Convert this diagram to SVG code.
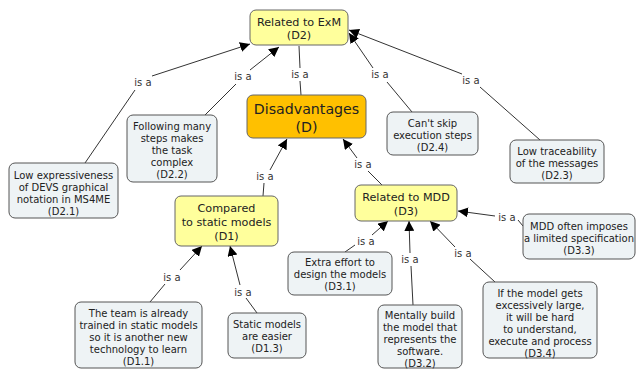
<svg xmlns="http://www.w3.org/2000/svg" width="638" height="370" viewBox="0 0 638 370">
  <defs>
    <marker id="arrow" viewBox="0 0 10 10" refX="10" refY="5" markerWidth="10" markerHeight="10" markerUnits="userSpaceOnUse" orient="auto">
      <path d="M0,0 L10,5 L0,10 z" fill="#000"/>
    </marker>
    <style>
      .leaf rect { fill: #eef3f5; stroke: #555; stroke-width: 1; }
      .mid rect { fill: #ffff9c; stroke: #666; stroke-width: 1; }
      .root rect { fill: #ffc000; stroke: #666; stroke-width: 1; }
      text { font-family: "DejaVu Sans", Verdana, sans-serif; fill: #222; text-anchor: middle; }
      .leaf text { font-size: 10px; }
      .mid text { font-size: 11.2px; }
      .root text { font-size: 14.2px; }
      .lbl { font-size: 10px; fill: #333; }
      .edge { stroke: #333; stroke-width: 1; fill: none; }
      .arr { marker-end: url(#arrow); }
    </style>
  </defs>

  <!-- connectors -->
  <g id="connectors">
    <!-- D2.1 to D2 -->
    <line class="edge" x1="85" y1="163" x2="135" y2="90"/>
    <line class="edge arr" x1="152" y1="76" x2="250" y2="44"/>
    <text class="lbl" x="143" y="86">is a</text>
    <!-- D2.2 to D2 -->
    <line class="edge" x1="205" y1="115" x2="236" y2="84"/>
    <line class="edge arr" x1="250" y1="70" x2="279" y2="47"/>
    <text class="lbl" x="243" y="80">is a</text>
    <!-- D to D2 -->
    <line class="edge" x1="301" y1="95" x2="300" y2="81"/>
    <line class="edge" x1="300" y1="68" x2="299" y2="46"/>
    <text class="lbl" x="300" y="78">is a</text>
    <!-- D2.4 to D2 -->
    <line class="edge" x1="412" y1="112" x2="387" y2="82"/>
    <line class="edge arr" x1="373" y1="68" x2="349" y2="33"/>
    <text class="lbl" x="380" y="78">is a</text>
    <!-- D2.3 to D2 -->
    <line class="edge" x1="540" y1="140" x2="480" y2="87"/>
    <line class="edge arr" x1="462" y1="74" x2="349" y2="30"/>
    <text class="lbl" x="471" y="84">is a</text>
    <!-- D1 to D -->
    <line class="edge" x1="263" y1="196" x2="264" y2="183"/>
    <line class="edge arr" x1="270" y1="170" x2="287" y2="139"/>
    <text class="lbl" x="265" y="180">is a</text>
    <!-- D3 to D -->
    <line class="edge" x1="382" y1="185" x2="368" y2="171"/>
    <line class="edge arr" x1="357" y1="158" x2="343" y2="139"/>
    <text class="lbl" x="363" y="168">is a</text>
    <!-- D1.1 to D1 -->
    <line class="edge" x1="150" y1="302" x2="165" y2="284"/>
    <line class="edge arr" x1="180" y1="270" x2="202" y2="246"/>
    <text class="lbl" x="172" y="281">is a</text>
    <!-- D1.3 to D1 -->
    <line class="edge" x1="257" y1="313" x2="246" y2="298"/>
    <line class="edge arr" x1="240" y1="285" x2="230" y2="246"/>
    <text class="lbl" x="243" y="296">is a</text>
    <!-- D3.1 to D3 -->
    <line class="edge" x1="345" y1="252" x2="355" y2="245"/>
    <line class="edge arr" x1="372" y1="235" x2="388" y2="221"/>
    <text class="lbl" x="366" y="245">is a</text>
    <!-- D3.2 to D3 -->
    <line class="edge" x1="413" y1="305" x2="411" y2="266"/>
    <line class="edge arr" x1="410" y1="253" x2="409" y2="221"/>
    <text class="lbl" x="410" y="263">is a</text>
    <!-- D3.4 to D3 -->
    <line class="edge" x1="495" y1="282" x2="470" y2="259"/>
    <line class="edge arr" x1="455" y1="247" x2="430" y2="221"/>
    <text class="lbl" x="463" y="257">is a</text>
    <!-- D3.3 to D3 -->
    <line class="edge" x1="523" y1="226" x2="518" y2="220"/>
    <line class="edge arr" x1="495" y1="216" x2="458" y2="211"/>
    <text class="lbl" x="507" y="221">is a</text>
  </g>

  <g id="D2" class="mid">
    <rect x="250" y="10" width="98" height="35" rx="6"/>
    <text x="299" y="26">Related to ExM</text>
    <text x="299" y="39">(D2)</text>
  </g>

  <g id="D" class="root">
    <rect x="247" y="95" width="119" height="43" rx="6"/>
    <text x="306.5" y="114">Disadvantages</text>
    <text x="306.5" y="132">(D)</text>
  </g>

  <g id="D2.1" class="leaf">
    <rect x="9" y="163" width="109" height="55" rx="6"/>
    <text x="63.5" y="179">Low expressiveness</text>
    <text x="63.5" y="191">of DEVS graphical</text>
    <text x="63.5" y="203">notation in MS4ME</text>
    <text x="63.5" y="215">(D2.1)</text>
  </g>

  <g id="D2.2" class="leaf">
    <rect x="127" y="115" width="90" height="67" rx="6"/>
    <text x="172" y="130">Following many</text>
    <text x="172" y="142">steps makes</text>
    <text x="172" y="154">the task</text>
    <text x="172" y="166">complex</text>
    <text x="172" y="178">(D2.2)</text>
  </g>

  <g id="D2.4" class="leaf">
    <rect x="387" y="112" width="91" height="43" rx="6"/>
    <text x="432.5" y="127">Can't skip</text>
    <text x="432.5" y="139">execution steps</text>
    <text x="432.5" y="151">(D2.4)</text>
  </g>

  <g id="D2.3" class="leaf">
    <rect x="510" y="140" width="94" height="43" rx="6"/>
    <text x="557" y="155">Low traceability</text>
    <text x="557" y="167">of the messages</text>
    <text x="557" y="179">(D2.3)</text>
  </g>

  <g id="D1" class="mid">
    <rect x="175" y="196" width="103" height="50" rx="6"/>
    <text x="226.5" y="212">Compared</text>
    <text x="226.5" y="226">to static models</text>
    <text x="226.5" y="240">(D1)</text>
  </g>

  <g id="D3" class="mid">
    <rect x="355" y="185" width="102" height="36" rx="6"/>
    <text x="406" y="201">Related to MDD</text>
    <text x="406" y="215">(D3)</text>
  </g>

  <g id="D3.3" class="leaf">
    <rect x="523" y="214" width="112" height="45" rx="6"/>
    <text x="579" y="230">MDD often imposes</text>
    <text x="579" y="242">a limited specification</text>
    <text x="579" y="254">(D3.3)</text>
  </g>

  <g id="D3.1" class="leaf">
    <rect x="288" y="252" width="104" height="43" rx="6"/>
    <text x="340" y="266">Extra effort to</text>
    <text x="340" y="278">design the models</text>
    <text x="340" y="290">(D3.1)</text>
  </g>

  <g id="D3.2" class="leaf">
    <rect x="378" y="305" width="84" height="63" rx="6"/>
    <text x="420" y="319">Mentally build</text>
    <text x="420" y="331">the model that</text>
    <text x="420" y="343">represents the</text>
    <text x="420" y="355">software.</text>
    <text x="420" y="367">(D3.2)</text>
  </g>

  <g id="D3.4" class="leaf">
    <rect x="483" y="282" width="114" height="76" rx="6"/>
    <text x="540" y="297">If the model gets</text>
    <text x="540" y="309">excessively large,</text>
    <text x="540" y="321">it will be hard</text>
    <text x="540" y="333">to understand,</text>
    <text x="540" y="345">execute and process</text>
    <text x="540" y="357">(D3.4)</text>
  </g>

  <g id="D1.1" class="leaf">
    <rect x="75" y="302" width="127" height="66" rx="6"/>
    <text x="138.5" y="317">The team is already</text>
    <text x="138.5" y="329">trained in static models</text>
    <text x="138.5" y="341">so it is another new</text>
    <text x="138.5" y="353">technology to learn</text>
    <text x="138.5" y="365">(D1.1)</text>
  </g>

  <g id="D1.3" class="leaf">
    <rect x="228" y="313" width="78" height="45" rx="6"/>
    <text x="267" y="328">Static models</text>
    <text x="267" y="340">are easier</text>
    <text x="267" y="352">(D1.3)</text>
  </g>
</svg>
